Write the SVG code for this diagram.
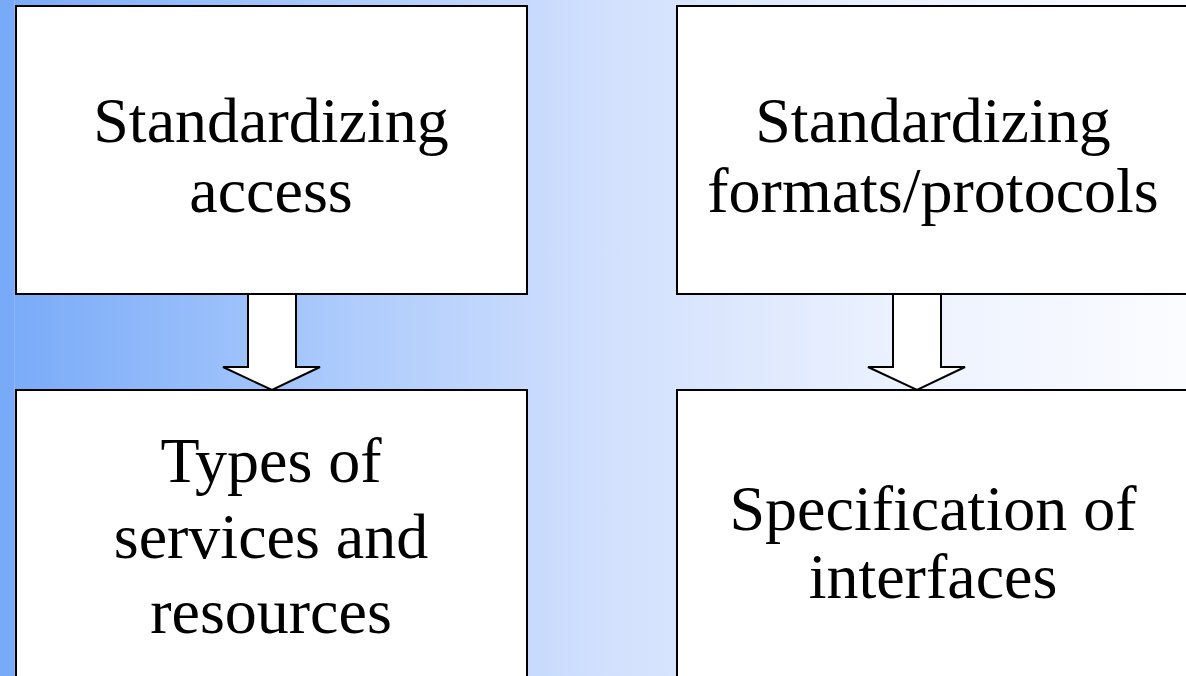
<svg xmlns="http://www.w3.org/2000/svg" width="1186" height="676" viewBox="0 0 1186 676">
  <defs>
    <linearGradient id="bg" x1="0" y1="0" x2="1186" y2="0" gradientUnits="userSpaceOnUse">
      <stop offset="0" stop-color="#78aaf8"/>
      <stop offset="0.28" stop-color="#abcafc"/>
      <stop offset="0.5" stop-color="#d0dffd"/>
      <stop offset="0.75" stop-color="#ebf1fe"/>
      <stop offset="1" stop-color="#fbfcff"/>
    </linearGradient>
  </defs>
  <style>
    .box { fill: #ffffff; stroke: #000000; stroke-width: 2; }
    .shadow { fill: none; stroke: #8a8a8a; stroke-width: 1; }
    .arrow { fill: #ffffff; stroke: #000000; stroke-width: 2; stroke-linejoin: miter; }
    .label { font-family: "Liberation Serif", "Times New Roman", serif; font-size: 64px; fill: #000000; text-anchor: middle; }
  </style>

  <!-- slide background -->
  <rect x="0" y="0" width="1186" height="676" fill="url(#bg)"/>
  <rect x="0" y="0" width="14" height="676" fill="#78aaf8"/>
  <line x1="14.5" y1="0" x2="14.5" y2="676" stroke="#8db8fa" stroke-width="1"/>

  <!-- connectors: block arrows between the boxes -->
  <g id="connectors">
    <polygon class="arrow" points="248,294 296,294 296,367 320,367 272,390 223,367 248,367"/>
    <polygon class="arrow" points="893,294 941,294 941,367 965,367 917,390 868,367 893,367"/>
  </g>

  <g id="node-standardizing-access">
    <rect class="box" x="16" y="6" width="511" height="288"/>
    <text class="label" x="271" y="142">Standardizing</text>
    <text class="label" x="271" y="212">access</text>
  </g>

  <g id="node-standardizing-formats">
    <rect class="box" x="677" y="6" width="512" height="288"/>
    <text class="label" x="933" y="142">Standardizing</text>
    <text class="label" x="933" y="212">formats/protocols</text>
  </g>

  <g id="node-types-of-services">
    <rect class="box" x="16" y="390" width="511" height="300"/>
    <text class="label" x="271" y="482">Types of</text>
    <text class="label" x="271" y="558">services and</text>
    <text class="label" x="271" y="633">resources</text>
  </g>

  <g id="node-specification-of-interfaces">
    <rect class="box" x="677" y="390" width="512" height="300"/>
    <text class="label" x="933" y="530">Specification of</text>
    <text class="label" x="933" y="598">interfaces</text>
  </g>
</svg>
